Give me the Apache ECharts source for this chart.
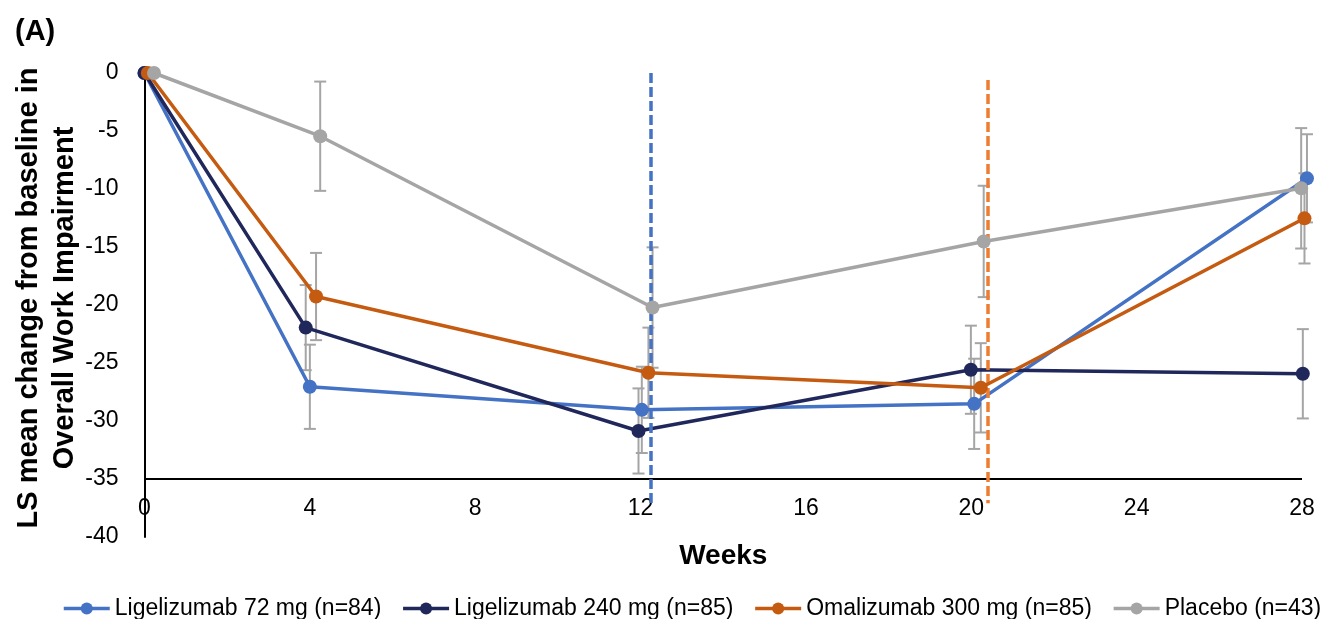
<!DOCTYPE html>
<html>
<head>
<meta charset="utf-8">
<script src="https://cdn.jsdelivr.net/npm/echarts@6/dist/echarts.min.js"></script>
<style>
html,body{margin:0;padding:0;background:#fff;}
#chart{width:1329px;height:619px;}
</style>
</head>
<body>
<div id="chart"></div>
<script>
// ---- data ----
const seriesNames = ['Ligelizumab 72 mg (n=84)', 'Ligelizumab 240 mg (n=85)', 'Omalizumab 300 mg (n=85)', 'Placebo (n=43)'];
// x positions (weeks) as plotted (small horizontal offsets per group as in the original)
const weeksLig72  = [0, 4.0, 12.03, 20.07, 28.12];
const weeksLig240 = [0, 3.9, 11.95, 19.99, 28.02];
const weeksOma    = [0.08, 4.15, 12.19, 20.23, 28.06];
const weeksPbo    = [0.23, 4.25, 12.29, 20.3, 27.98];
// LS mean change
const lig72  = [0, -27.05, -29.04, -28.52, -9.08];
const lig240 = [0, -21.95, -30.86, -25.58, -25.93];
const oma    = [0, -19.27, -25.84, -27.14, -12.53];
const pbo    = [0, -5.45, -20.22, -14.52, -9.94];
// error half-widths (0 = no bar)
const errLig72  = [0, 3.63, 3.72, 3.89, 3.8];
const errLig240 = [0, 3.67, 3.67, 3.8, 3.85];
const errOma    = [0, 3.76, 3.89, 3.85, 3.89];
const errPbo    = [0, 4.71, 5.19, 4.8, 5.19];
// reference lines
const dashLig = {week: 12.25, from: 0, to: -37.1};
const dashOma = {week: 20.39, from: -0.6, to: -37.1};
const xAxisCross = -35;
const xTicks = {min: 0, max: 28, interval: 4};
const yTicks = {min: -40, max: 0, interval: 5};

const colors = ['#4472C4', '#20275B', '#C55A11', '#A5A5A5'];
const FONT = 'Liberation Sans, Arial, sans-serif';

const allWeeks = [weeksLig72, weeksLig240, weeksOma, weeksPbo];
const allVals = [lig72, lig240, oma, pbo];
const allErr = [errLig72, errLig240, errOma, errPbo];

const errData = [];
allWeeks.forEach((w, s) => {
  w.forEach((x, i) => {
    if (allErr[s][i] > 0) errData.push([x, allVals[s][i] - allErr[s][i], allVals[s][i] + allErr[s][i]]);
  });
});

const chart = echarts.init(document.getElementById('chart'), null, {renderer: 'canvas'});

const lineSeries = seriesNames.map((name, s) => ({
  name: name,
  type: 'line',
  data: allWeeks[s].map((x, i) => [x, allVals[s][i]]),
  symbol: 'circle',
  symbolSize: 14,
  showSymbol: true,
  clip: false,
  color: colors[s],
  lineStyle: {width: 3.5, color: colors[s]},
  itemStyle: {color: colors[s]},
  z: 3 + s,
  emphasis: {disabled: true}
}));

const option = {
  animation: false,
  backgroundColor: '#fff',
  title: {
    text: '(A)', left: 10, top: 12,
    textStyle: {fontFamily: FONT, fontWeight: 'bold', fontSize: 29, color: '#000'}
  },
  grid: {left: 144.5, right: 27, top: 73, bottom: 82, containLabel: false, outerBoundsMode: 'none'},
  legend: {
    data: seriesNames,
    left: 62, top: 597, padding: 0,
    itemWidth: 46, itemHeight: 15, itemGap: 20,
    lineStyle: {width: 3.5},
    textStyle: {fontFamily: FONT, fontSize: 23, color: '#000'}
  },
  xAxis: {
    type: 'value',
    min: xTicks.min, max: xTicks.max, interval: xTicks.interval,
    name: 'Weeks', nameLocation: 'middle', nameGap: 5, nameMoveOverlap: false,
    nameTextStyle: {fontFamily: FONT, fontWeight: 'bold', fontSize: 28, color: '#000', verticalAlign: 'top'},
    axisLine: {show: false},
    axisTick: {show: false},
    splitLine: {show: false},
    axisLabel: {inside: true, margin: 17, fontFamily: FONT, fontSize: 23, color: '#000'}
  },
  yAxis: {
    type: 'value',
    min: yTicks.min, max: yTicks.max, interval: yTicks.interval,
    name: 'LS mean change from baseline in\nOverall Work Impairment',
    nameLocation: 'middle', nameGap: 62, nameRotate: 90, nameMoveOverlap: false,
    nameTextStyle: {fontFamily: FONT, fontWeight: 'bold', fontSize: 29, lineHeight: 36, color: '#000', padding: [0, 0, 0, 14]},
    axisLine: {show: true, lineStyle: {color: '#000', width: 2}},
    axisTick: {show: false},
    splitLine: {show: false},
    axisLabel: {margin: 26, fontFamily: FONT, fontSize: 23, color: '#000'}
  },
  series: [
    {
      name: 'errorbars',
      type: 'custom',
      data: errData,
      clip: false,
      z: 2,
      silent: true,
      renderItem: function (params, api) {
        const x = api.value(0);
        const lo = api.coord([x, api.value(1)]);
        const hi = api.coord([x, api.value(2)]);
        const cap = 6;
        const st = {stroke: '#A5A5A5', lineWidth: 2, fill: null};
        return {
          type: 'group',
          children: [
            {type: 'line', shape: {x1: lo[0], y1: lo[1], x2: hi[0], y2: hi[1]}, style: st},
            {type: 'line', shape: {x1: lo[0] - cap, y1: lo[1], x2: lo[0] + cap, y2: lo[1]}, style: st},
            {type: 'line', shape: {x1: hi[0] - cap, y1: hi[1], x2: hi[0] + cap, y2: hi[1]}, style: st}
          ]
        };
      }
    },
    ...lineSeries,
    {
      name: 'refLines',
      type: 'line',
      data: [],
      z: 10,
      markLine: {
        silent: true, symbol: 'none', label: {show: false},
        data: [
          [{coord: [xTicks.min, xAxisCross], lineStyle: {color: '#000', width: 2, type: 'solid'}},
           {coord: [xTicks.max, xAxisCross]}],
          [{coord: [dashLig.week, dashLig.from], lineStyle: {color: '#4472C4', width: 3.5, type: [10, 4]}},
           {coord: [dashLig.week, dashLig.to]}],
          [{coord: [dashOma.week, dashOma.from], lineStyle: {color: '#ED7D31', width: 3.5, type: [10, 4]}},
           {coord: [dashOma.week, dashOma.to]}]
        ]
      }
    }
  ]
};
chart.setOption(option);
</script>
</body>
</html>
